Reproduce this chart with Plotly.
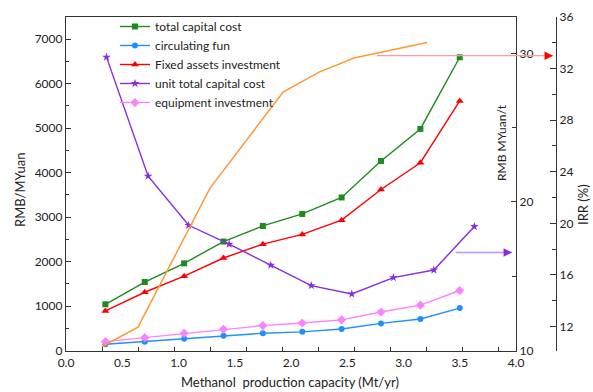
import plotly.graph_objects as go

# ---- data ----
capacity = [0.35, 0.70, 1.05, 1.40, 1.75, 2.10, 2.45, 2.80, 3.15, 3.50]
total_capital_cost = [1040, 1540, 1960, 2450, 2800, 3070, 3440, 4260, 4980, 6590]
circulating_fund = [140, 200, 265, 335, 390, 420, 485, 610, 710, 955]
fixed_assets = [890, 1310, 1670, 2080, 2390, 2610, 2930, 3620, 4220, 5610]
equipment = [200, 290, 390, 480, 560, 620, 690, 865, 1020, 1350]

capacity_unit = [0.36, 0.73, 1.09, 1.45, 1.82, 2.18, 2.54, 2.91, 3.27, 3.63]
unit_total_cost = [29.75, 21.74, 18.43, 17.16, 15.75, 14.37, 13.81, 14.91, 15.42, 18.35]

capacity_irr = [0.32, 0.64, 1.28, 1.93, 2.25, 2.56, 3.21]
irr = [10.45, 11.95, 22.73, 30.18, 31.73, 32.82, 34.03]

x_ticks = [0.0, 0.5, 1.0, 1.5, 2.0, 2.5, 3.0, 3.5, 4.0]

# arrow anchors (data)
irr_arrow = dict(x_start=2.75, y=33.0)
unit_arrow = dict(x_start=3.45, y=16.6)

# ---- layout geometry ----
W, H = 593, 392
ML, MR, MT, MB = 66, 37, 17, 41
PW = W - ML - MR
XDOM = 450 / PW
XMAX = 4.0
FONT = "Lato"
AX = "#333333"

fig = go.Figure()

def add(x, y, name, color, symbol, size, yaxis="y", xaxis="x", showlegend=True, mode="lines+markers", width=1.4):
    fig.add_trace(go.Scatter(
        x=x, y=y, name=name, mode=mode, xaxis=xaxis, yaxis=yaxis, showlegend=showlegend,
        line=dict(color=color, width=width),
        marker=dict(symbol=symbol, size=size, color=color),
    ))

add(capacity, total_capital_cost, "total capital cost", "#1E8B1E", "square", 6)
add(capacity, circulating_fund, "circulating fun", "#1E90FF", "circle", 6)
add(capacity, fixed_assets, "Fixed assets investment", "#FF0000", "triangle-up", 7)
add(capacity_unit, unit_total_cost, "unit total capital cost", "#8A2BE2", "star", 6.5, yaxis="y2")
add(capacity, equipment, "equipment investment", "#FF80FF", "diamond", 7)
add(capacity_irr, irr, "IRR", "#FF9933", "circle", 1, yaxis="y3", xaxis="x2",
    showlegend=False, mode="lines", width=1.5)

tickfont = dict(family=FONT, size=12, color="#222")

fig.update_layout(
    width=W, height=H,
    margin=dict(l=ML, r=MR, t=MT, b=MB, autoexpand=False),
    paper_bgcolor="white", plot_bgcolor="white",
    font=dict(family=FONT, size=12, color="#222"),
    xaxis=dict(
        domain=[0, XDOM], range=[0, XMAX], tickvals=x_ticks,
        ticktext=[f"{v:.1f}" for v in x_ticks],
        showgrid=False, zeroline=False, showline=True, linecolor=AX, linewidth=1.2,
        mirror=True, ticks="", tickfont=tickfont,
    ),
    xaxis2=dict(
        overlaying="x", anchor="y", side="bottom", range=[0, XMAX],
        tickmode="linear", tick0=0, dtick=0.32, ticks="inside", ticklen=4, tickcolor=AX,
        showticklabels=False, showgrid=False, zeroline=False, showline=False,
    ),
    yaxis=dict(
        range=[-10, 7495], dtick=1000, tick0=0,
        showgrid=False, zeroline=False, showline=True, linecolor=AX, linewidth=1.2,
        ticks="inside", ticklen=5, tickcolor=AX, tickfont=tickfont,
        minor=dict(ticks="inside", dtick=500, ticklen=3, tickcolor=AX, showgrid=False),
    ),
    yaxis2=dict(
        overlaying="y", side="right", anchor="x", range=[9.97, 32.45],
        tick0=10, dtick=10, showgrid=False, zeroline=False,
        showline=True, linecolor=AX, linewidth=1.2,
        ticks="inside", ticklen=5, tickcolor=AX, tickfont=tickfont,
        minor=dict(ticks="inside", dtick=5, ticklen=4, tickcolor=AX, showgrid=False),
    ),
    yaxis3=dict(
        overlaying="y", side="right", anchor="free", position=1.0, range=[10.1, 36],
        tick0=12, dtick=4, showgrid=False, zeroline=False,
        showline=True, linecolor=AX, linewidth=1.2,
        ticks="inside", ticklen=6, tickcolor=AX, tickfont=tickfont,
        minor=dict(ticks="inside", dtick=2, ticklen=4, tickcolor=AX, showgrid=False),
    ),
    legend=dict(
        x=(115 - ML) / PW, y=1.015, xanchor="left", yanchor="top",
        bgcolor="rgba(0,0,0,0)", font=dict(family=FONT, size=12, color="#222"),
        tracegroupgap=0, itemwidth=30,
    ),
    showlegend=True,
)

def px_of(xv):
    return xv / XMAX * 450

anns = [
    dict(text="RMB/MYuan", x=(20 - ML) / PW, y=(351 - 190) / 334, textangle=-90, size=13),
    dict(text="RMB MYuan/t", x=(501 - ML) / PW, y=(351 - 143) / 334, textangle=-90, size=12),
    dict(text="IRR (%)", x=(583 - ML) / PW, y=(351 - 205) / 334, textangle=-90, size=13),
    dict(text="Methanol\u00a0 production capacity (Mt/yr)", x=(290 - ML) / PW, y=(351 - 382) / 334,
         textangle=0, size=13),
]
for a in anns:
    fig.add_annotation(text=a["text"], x=a["x"], y=a["y"], xref="paper", yref="paper",
                       showarrow=False, textangle=a["textangle"], xanchor="center", yanchor="middle",
                       font=dict(family=FONT, size=a["size"], color="#222"))

def arrow(head_px, ystart, yref, x_start, line_col, head_col):
    head_paper = (head_px - ML) / PW
    tail_px = px_of(x_start)
    length = (head_px - ML) - tail_px
    fig.add_annotation(x=head_paper, y=ystart, xref="paper", yref=yref, ax=-length, ay=0,
                       axref="pixel", ayref="pixel", text="", showarrow=True,
                       arrowhead=0, arrowwidth=1.3, arrowcolor=line_col)
    fig.add_annotation(x=head_paper, y=ystart, xref="paper", yref=yref, ax=-7, ay=0,
                       axref="pixel", ayref="pixel", text="", showarrow=True,
                       arrowhead=2, arrowsize=1.3, arrowwidth=1.3, arrowcolor=head_col)

arrow(553, irr_arrow["y"], "y3", irr_arrow["x_start"], "#FF9A9A", "#FF0000")
arrow(512, unit_arrow["y"], "y2", unit_arrow["x_start"], "#C890FF", "#8A2BE2")

fig.write_html("out.html", config={"displayModeBar": False},
               post_script="document.body.style.margin='0px';document.body.style.padding='0px';")
